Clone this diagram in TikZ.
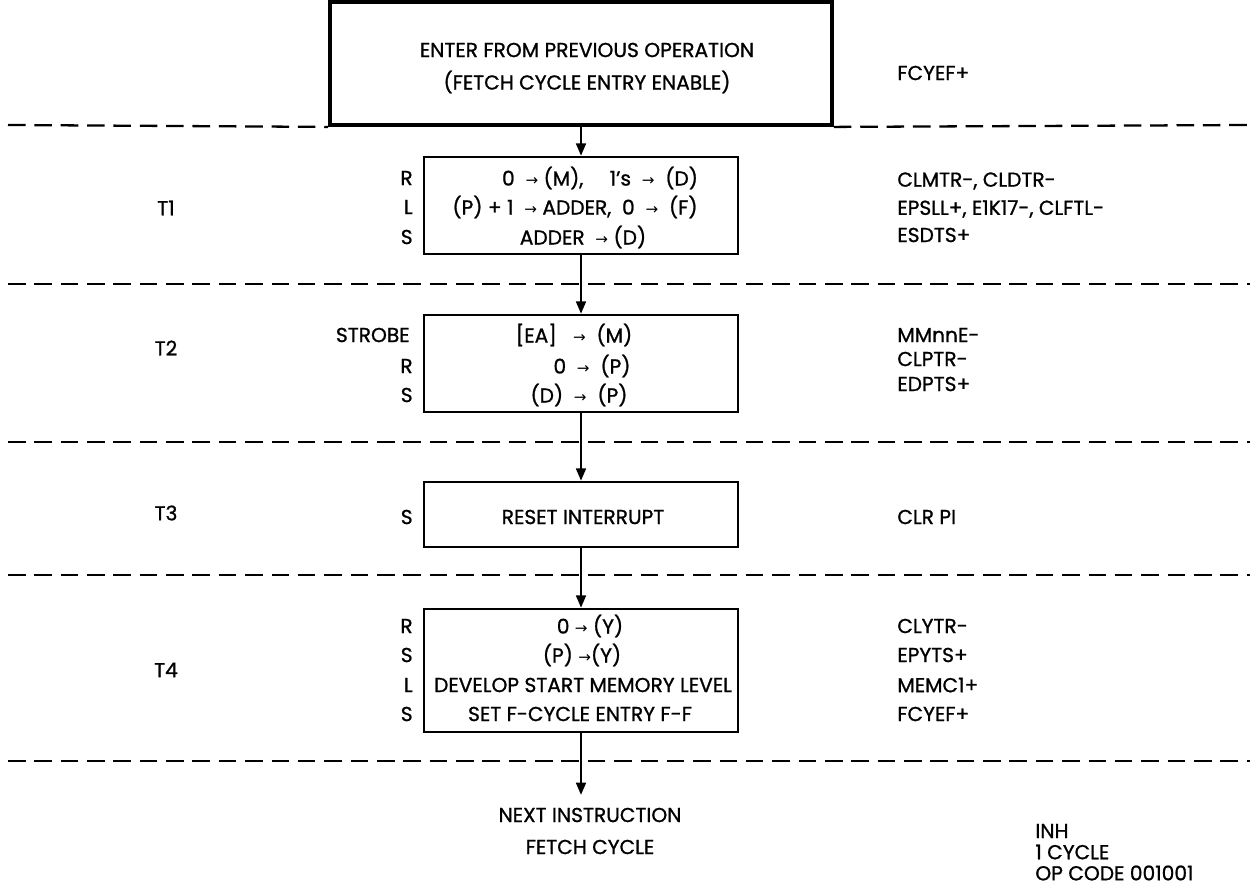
\documentclass[tikz,border=0pt]{standalone}
\usepackage{fontspec}
\setmainfont{Poppins}[FakeBold=1.0]
\newfontfamily\arrfont{DejaVu Sans}
\usepackage{graphicx}
\usetikzlibrary{arrows.meta}
\newcommand{\myarr}{\raisebox{0.05ex}{\scalebox{0.75}{\arrfont →}}}
\begin{document}
\begin{tikzpicture}[x=0.02cm,y=-0.02cm,
  font=\fontsize{11.5}{13}\selectfont,
  opbox/.style={draw, line width=1.4pt, inner sep=0pt, minimum width=6.28cm},
  topbox/.style={draw, line width=2.2pt, inner sep=0pt, minimum width=10.04cm, minimum height=2.46cm},
  sep/.style={line width=1.3pt, dash pattern=on 10pt off 5pt},
  flow/.style={line width=1.4pt, -{Triangle[length=7pt,width=5.5pt]}},
  txt/.style={inner sep=0pt, anchor=center},
  lab/.style={inner sep=0pt, anchor=east},
  sig/.style={inner sep=0pt, anchor=west},
  tl/.style={inner sep=0pt, anchor=center}
]
\useasboundingbox (0,0) rectangle (1257,888);

% boxes
\node[topbox] (top) at (581,63.5) {};
\node[opbox, minimum height=1.94cm] (b1) at (581,205.5) {};
\node[opbox, minimum height=1.94cm] (b2) at (581,363.5) {};
\node[opbox, minimum height=1.30cm] (b3) at (581,514.5) {};
\node[opbox, minimum height=2.46cm] (b4) at (581,670.5) {};
\coordinate (nx) at (581,795);

% separators
\coordinate (d1a) at (8,125);
\coordinate (d1b) at (1250,125);
\draw[sep] (d1a) -- (top.south west);
\draw[sep] (top.south east) -- (d1b);
\coordinate (d2a) at (8,284);   \coordinate (d2b) at (1250,284);
\coordinate (d3a) at (8,442);   \coordinate (d3b) at (1250,442);
\coordinate (d4a) at (8,575);   \coordinate (d4b) at (1250,575);
\coordinate (d5a) at (8,761);   \coordinate (d5b) at (1250,761);
\draw[sep] (d2a) -- (d2b);
\draw[sep] (d3a) -- (d3b);
\draw[sep] (d4a) -- (d4b);
\draw[sep] (d5a) -- (d5b);

% flow
\draw[flow] (top.south) -- (b1.north);
\draw[flow] (b1.south) -- (b2.north);
\draw[flow] (b2.south) -- (b3.north);
\draw[flow] (b3.south) -- (b4.north);
\draw[flow] (b4.south) -- (nx);

% top box text
\node[txt] (e1) at (587,50) {ENTER FROM PREVIOUS OPERATION};
\node[txt] (e2) at (587,82) {(FETCH CYCLE ENTRY ENABLE)};
\node[sig] (s0) at (897,73) {FCYEF+};

% T labels
\node[tl] (T1) at (166,208) {T1};
\node[tl] (T2) at (166,348) {T2};
\node[tl] (T3) at (166,513) {T3};
\node[tl] (T4) at (166,670) {T4};

% T1
\node[txt] (t1a) at (600,178) {0\ \ \myarr\ (M),\hspace{1.3em}1's\ \ \myarr\ \ (D)};
\node[txt] (t1b) at (575,207) {(P) + 1\ \ \myarr\ ADDER,\ \ 0\ \ \myarr\ \ (F)};
\node[txt] (t1c) at (583,237) {ADDER\ \ \myarr\ (D)};
\node[lab] (l1a) at (413,178) {R};
\node[lab] (l1b) at (413,207) {L};
\node[lab] (l1c) at (413,237) {S};
\node[sig] (s1a) at (897,181) {CLMTR-, CLDTR-};
\node[sig] (s1b) at (897,209) {EPSLL+, E1K17-, CLFTL-};
\node[sig] (s1c) at (897,235) {ESDTS+};

% T2
\node[txt] (t2a) at (574,335) {[EA]\ \ \ \myarr\ \ (M)};
\node[txt] (t2b) at (592,366) {0\ \ \myarr\ \ (P)};
\node[txt] (t2c) at (579,395) {(D)\ \ \myarr\ \ (P)};
\node[lab] (l2a) at (410,335) {STROBE};
\node[lab] (l2b) at (413,366) {R};
\node[lab] (l2c) at (413,395) {S};
\node[sig] (s2a) at (897,335) {MMnnE-};
\node[sig] (s2b) at (897,359) {CLPTR-};
\node[sig] (s2c) at (897,384) {EDPTS+};

% T3
\node[txt] (t3a) at (583,517) {RESET INTERRUPT};
\node[lab] (l3a) at (413,517) {S};
\node[sig] (s3a) at (897,517) {CLR PI};

% T4
\node[txt] (t4a) at (590,626) {0 \myarr\ (Y)};
\node[txt] (t4b) at (582,655) {(P) \myarr(Y)};
\node[txt] (t4c) at (583,685) {DEVELOP START MEMORY LEVEL};
\node[txt] (t4d) at (580,714) {SET F-CYCLE ENTRY F-F};
\node[lab] (l4a) at (413,626) {R};
\node[lab] (l4b) at (413,655) {S};
\node[lab] (l4c) at (413,685) {L};
\node[lab] (l4d) at (413,714) {S};
\node[sig] (s4a) at (897,626) {CLYTR-};
\node[sig] (s4b) at (897,655) {EPYTS+};
\node[sig] (s4c) at (897,685) {MEMC1+};
\node[sig] (s4d) at (897,714) {FCYEF+};

% bottom
\node[txt] (n1) at (590,815) {NEXT INSTRUCTION};
\node[txt] (n2) at (590,847) {FETCH CYCLE};
\node[sig] (i1) at (1035,831) {INH};
\node[sig] (i2) at (1035,852) {1 CYCLE};
\node[sig] (i3) at (1035,873) {OP CODE 001001};
\end{tikzpicture}
\end{document}
